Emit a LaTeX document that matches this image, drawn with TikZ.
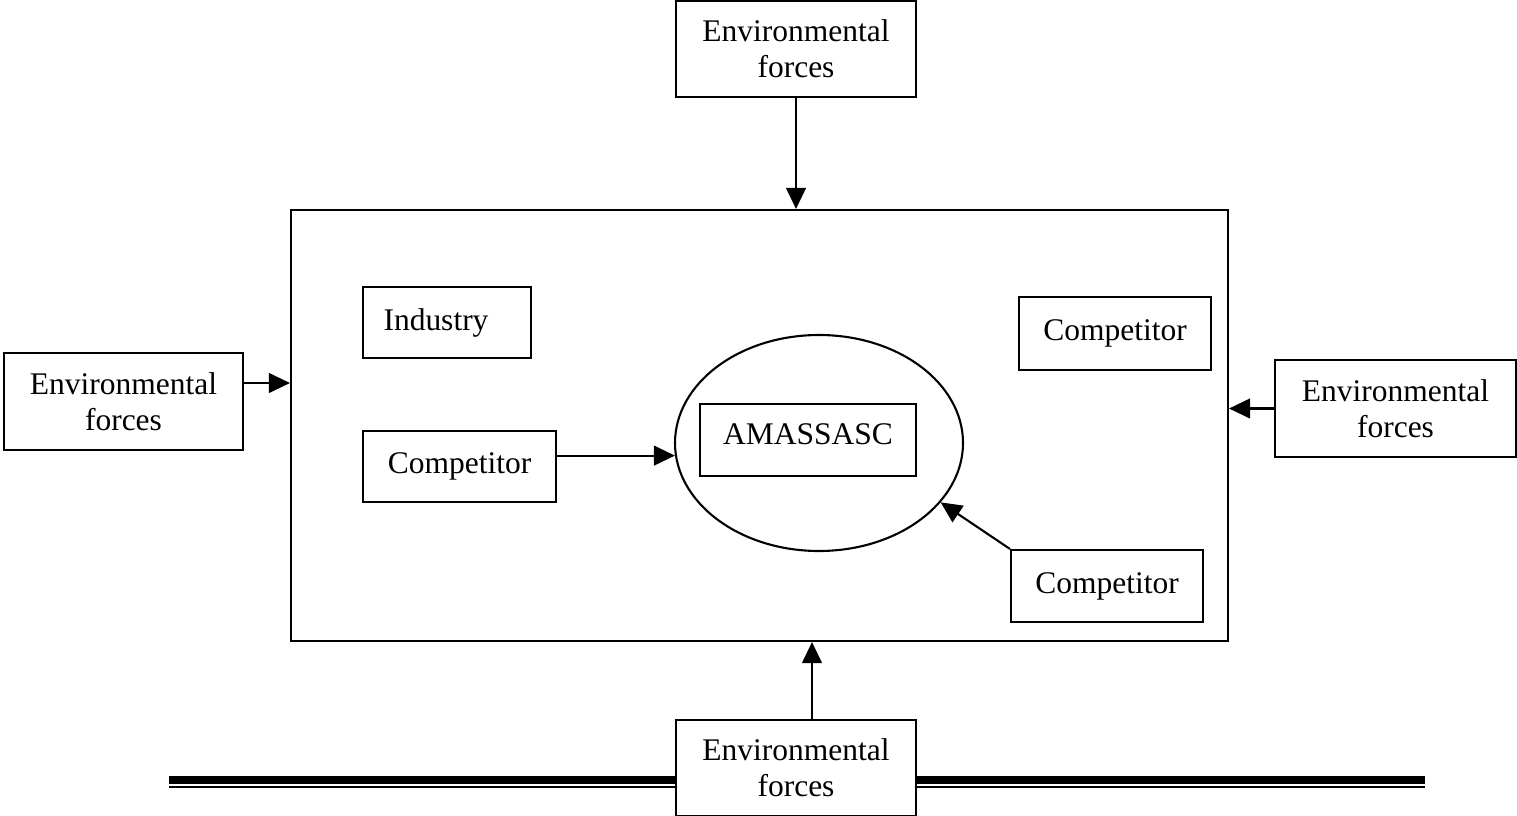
\documentclass[tikz,border=0pt]{standalone}
\usepackage{fontspec}
\setmainfont{Liberation Serif}
\usetikzlibrary{arrows.meta,shapes.geometric}
\begin{document}
\begin{tikzpicture}[x=0.381pt,y=-0.381pt,
  every node/.style={font=\fontsize{12}{13.8}\selectfont},
  box/.style 2 args={draw,line width=0.8pt,minimum width=#1*0.381pt,minimum height=#2*0.381pt,inner sep=0pt,align=center},
  txt/.style={inner sep=0pt,align=center},
  conn/.style={line width=0.8pt,-{Triangle[length=8pt,width=7.5pt]}},
  rulethick/.style={line width=3pt},
  rulethin/.style={line width=0.8pt}]
\useasboundingbox (0,0) rectangle (1517,816);

% surrounding industry frame
\node[box={937}{431}] (main) at (759.5,425.5) {};

% environmental forces acting from four sides
\node[box={240}{96}] (envT) at (796,49) {Environmental\\forces};
\node[box={239}{97}] (envL) at (123.5,401.5) {Environmental\\forces};
\node[box={241}{97}] (envR) at (1395.5,408.5) {Environmental\\forces};
\node[box={240}{96}] (envB) at (796,768) {Environmental\\forces};

% players inside the industry
\node[box={168}{71}] (ind) at (447,322.5) {};
\node[txt] (indT) at (436,322.5) {Industry};
\node[box={192}{73}] (compR) at (1115,333.5) {Competitor};
\node[box={193}{71}] (compL) at (459.5,466.5) {Competitor};
\node[box={192}{72}] (compB) at (1107,586) {Competitor};

% focal firm
\node[draw,line width=0.8pt,ellipse,minimum width=288*0.381pt,minimum height=216*0.381pt,inner sep=0pt] (ell) at (819,443) {};
\node[box={216}{72}] (firm) at (808,440) {};
\node[txt] (firmT) at (808,434) {AMASSASC};

% connectors
\draw[conn] (envT.south) -- (envT.south |- main.north);
\coordinate (bStart) at ([xshift=16*0.381pt]envB.north);
\draw[conn] (bStart) -- (bStart |- main.south);
\coordinate (lStart) at ([yshift=18.5*0.381pt]envL.east);
\draw[conn] (lStart) -- (lStart -| main.west);
\draw[conn] (envR.west) -- (envR.west -| main.east);
\draw[conn] (compL.east |- ell.185) -- (ell.185);
\draw[conn] (compB.north west) -- (ell.-26);

% double rule under the figure
\coordinate (rL) at (169,780);
\coordinate (rR) at (1425,780);
\draw[rulethick] (rL) -- (rL -| envB.west);
\draw[rulethick] (rR -| envB.east) -- (rR);
\draw[rulethin] ([yshift=-7*0.381pt]rL) -- ([yshift=-7*0.381pt]rL -| envB.west);
\draw[rulethin] ([yshift=-7*0.381pt]rR -| envB.east) -- ([yshift=-7*0.381pt]rR);
\end{tikzpicture}
\end{document}
